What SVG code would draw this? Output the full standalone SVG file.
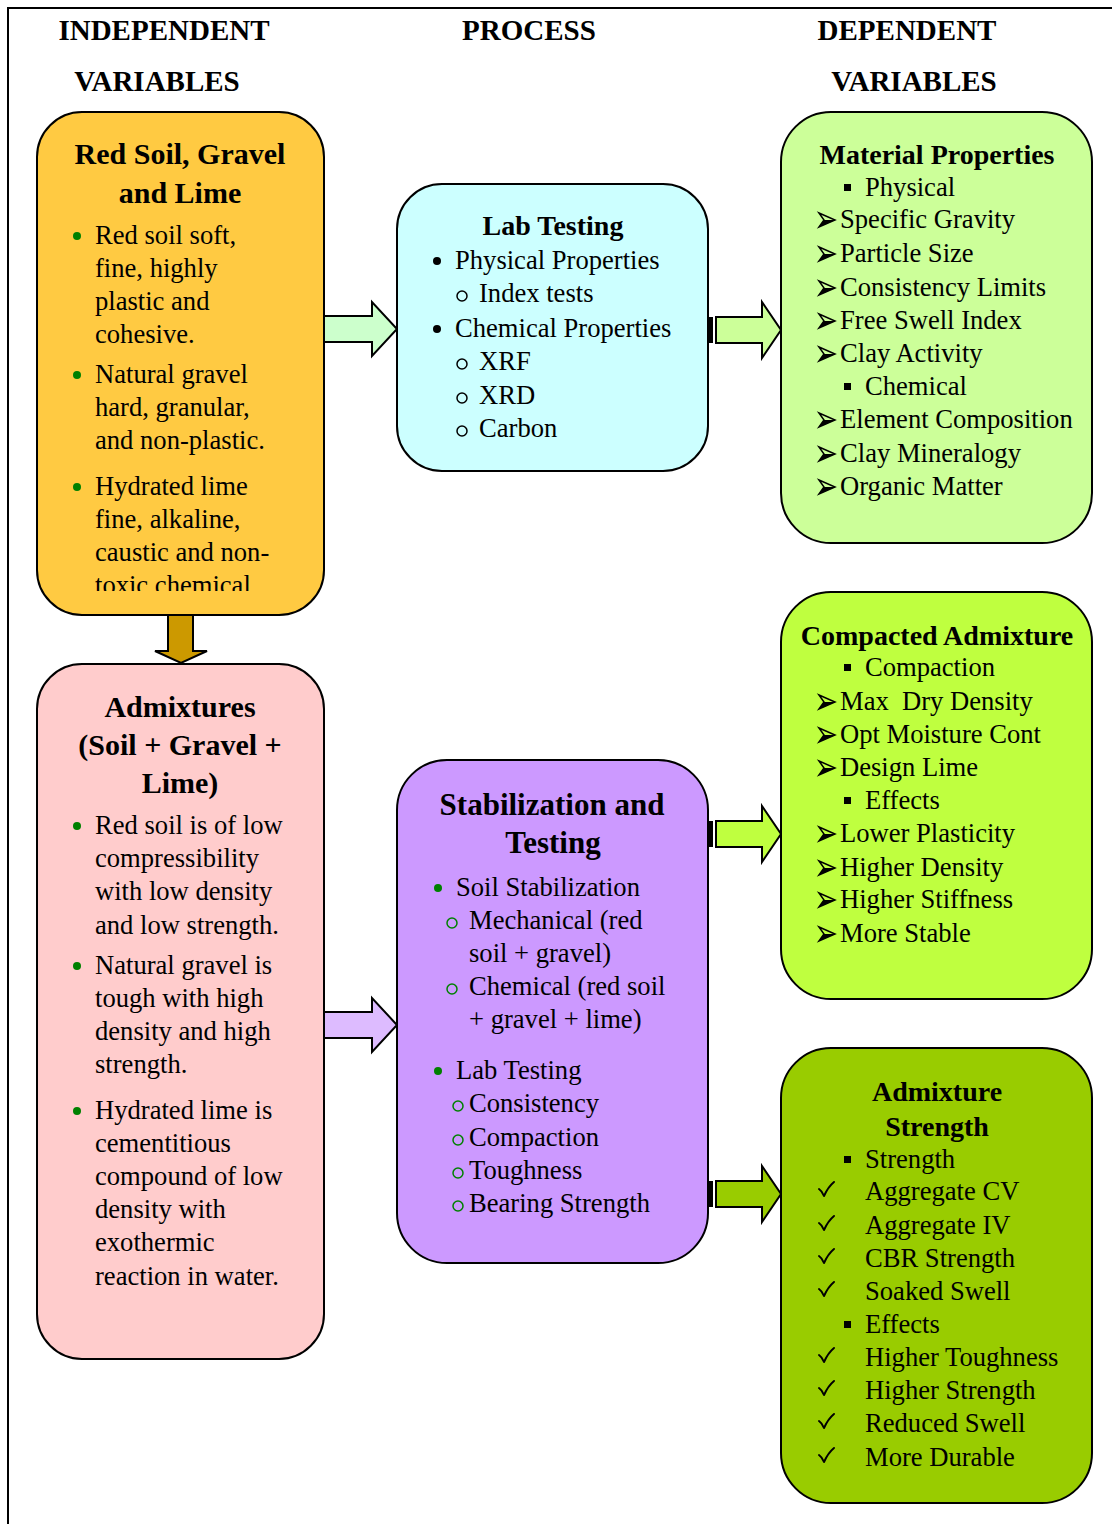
<svg xmlns="http://www.w3.org/2000/svg" width="1112" height="1524" viewBox="0 0 1112 1524">
<style>
text{font-family:"Liberation Serif","Times New Roman",serif;fill:#000}
.b{font-size:26.6px}
.t{font-size:28px;font-weight:bold;text-anchor:middle}
.ts{font-size:31px;font-weight:bold;text-anchor:middle}
.tl{font-size:30px;font-weight:bold;text-anchor:middle}
.h{font-size:29px;font-weight:bold;text-anchor:middle}
.box{stroke:#000;stroke-width:2}
.arr{stroke:#000;stroke-width:2;stroke-linejoin:miter}
.gd{fill:#008000}
.gc{fill:none;stroke:#008000;stroke-width:1.5}
.kc{fill:none;stroke:#000;stroke-width:1.5}
.chk{fill:none;stroke:#000;stroke-width:2;stroke-linecap:round;stroke-linejoin:round}
</style>
<defs>
<clipPath id="clipO"><rect x="37" y="112" width="287" height="479"/></clipPath>
<path id="ah" d="M0,-7 L16,0 L0,7 L5,0 Z"/>
</defs>
<rect width="1112" height="1524" fill="#fff"/>
<path d="M8,1524 V8 H1112" fill="none" stroke="#000" stroke-width="2"/>

<g id="headers">
<text class="h" x="164" y="40">INDEPENDENT</text>
<text class="h" x="157" y="91">VARIABLES</text>
<text class="h" x="529" y="40">PROCESS</text>
<text class="h" x="907" y="40">DEPENDENT</text>
<text class="h" x="914" y="91">VARIABLES</text>
</g>

<g id="connectors">
<polygon class="arr" fill="#CCFFCC" points="324,316 372,316 372,302 397,329 372,356 372,342 324,342"/>
<g>
<rect x="707" y="317" width="6" height="26" fill="#000"/>
<polygon class="arr" fill="#CCFF99" points="716,317 762,317 762,302 781,330 762,358 762,343 716,343"/>
</g>
<polygon class="arr" fill="#CC9900" points="168,615 193,615 193,651 207,651 181,663 155,651 168,651"/>
<polygon class="arr" fill="#DDBBFF" points="324,1012 372,1012 372,998 397,1025 372,1052 372,1038 324,1038"/>
<g>
<rect x="707" y="821" width="6" height="26" fill="#000"/>
<polygon class="arr" fill="#BFFF3F" points="716,821 762,821 762,806 781,834 762,862 762,847 716,847"/>
</g>
<g>
<rect x="707" y="1181" width="6" height="26" fill="#000"/>
<polygon class="arr" fill="#99CC00" points="716,1181 762,1181 762,1166 781,1194 762,1222 762,1207 716,1207"/>
</g>
</g>

<g id="node-raw-materials">
<rect class="box" x="37" y="112" width="287" height="503" rx="45" fill="#FFCA42"/>
<text class="tl" x="180" y="164">Red Soil, Gravel</text>
<text class="tl" x="180" y="203">and Lime</text>
<g clip-path="url(#clipO)">
<circle class="gd" cx="77" cy="236" r="4"/>
<text class="b" x="95" y="244">Red soil soft,</text>
<text class="b" x="95" y="277">fine, highly</text>
<text class="b" x="95" y="310">plastic and</text>
<text class="b" x="95" y="343">cohesive.</text>
<circle class="gd" cx="77" cy="375" r="4"/>
<text class="b" x="95" y="383">Natural gravel</text>
<text class="b" x="95" y="416">hard, granular,</text>
<text class="b" x="95" y="449">and non-plastic.</text>
<circle class="gd" cx="77" cy="487" r="4"/>
<text class="b" x="95" y="495">Hydrated lime</text>
<text class="b" x="95" y="528">fine, alkaline,</text>
<text class="b" x="95" y="561">caustic and non-</text>
<text class="b" x="95" y="594">toxic chemical</text>
</g>
</g>

<g id="node-lab-testing">
<rect class="box" x="397" y="184" width="311" height="287" rx="45" fill="#CCFFFF"/>
<text class="t" x="553" y="235">Lab Testing</text>
<circle cx="437" cy="261" r="4" fill="#000"/>
<text class="b" x="455" y="269">Physical Properties</text>
<circle class="kc" cx="462" cy="296" r="5"/>
<text class="b" x="479" y="302">Index tests</text>
<circle cx="437" cy="329" r="4" fill="#000"/>
<text class="b" x="455" y="337">Chemical Properties</text>
<circle class="kc" cx="462" cy="364" r="5"/>
<text class="b" x="479" y="370">XRF</text>
<circle class="kc" cx="462" cy="398" r="5"/>
<text class="b" x="479" y="404">XRD</text>
<circle class="kc" cx="462" cy="431" r="5"/>
<text class="b" x="479" y="437">Carbon</text>
</g>

<g id="node-material-properties">
<rect class="box" x="781" y="112" width="311" height="431" rx="50" fill="#CCFF99"/>
<text class="t" x="937" y="164">Material Properties</text>
<rect x="844" y="184" width="7" height="7" fill="#000"/>
<text class="b" x="865" y="196">Physical</text>
<use href="#ah" x="819" y="220" class="kc"/><path d="M824,220 L835,220 L819,227 Z"/>
<text class="b" x="840" y="228">Specific Gravity</text>
<use href="#ah" x="819" y="254" class="kc"/><path d="M824,254 L835,254 L819,261 Z"/>
<text class="b" x="840" y="262">Particle Size</text>
<use href="#ah" x="819" y="288" class="kc"/><path d="M824,288 L835,288 L819,295 Z"/>
<text class="b" x="840" y="296">Consistency Limits</text>
<use href="#ah" x="819" y="321" class="kc"/><path d="M824,321 L835,321 L819,328 Z"/>
<text class="b" x="840" y="329">Free Swell Index</text>
<use href="#ah" x="819" y="354" class="kc"/><path d="M824,354 L835,354 L819,361 Z"/>
<text class="b" x="840" y="362">Clay Activity</text>
<rect x="844" y="383" width="7" height="7" fill="#000"/>
<text class="b" x="865" y="395">Chemical</text>
<use href="#ah" x="819" y="420" class="kc"/><path d="M824,420 L835,420 L819,427 Z"/>
<text class="b" x="840" y="428">Element Composition</text>
<use href="#ah" x="819" y="454" class="kc"/><path d="M824,454 L835,454 L819,461 Z"/>
<text class="b" x="840" y="462">Clay Mineralogy</text>
<use href="#ah" x="819" y="487" class="kc"/><path d="M824,487 L835,487 L819,494 Z"/>
<text class="b" x="840" y="495">Organic Matter</text>
</g>

<g id="node-admixtures">
<rect class="box" x="37" y="664" width="287" height="695" rx="45" fill="#FFCCCC"/>
<text class="tl" x="180" y="717">Admixtures</text>
<text class="tl" x="180" y="755">(Soil + Gravel +</text>
<text class="tl" x="180" y="793">Lime)</text>
<circle class="gd" cx="77" cy="826" r="4"/>
<text class="b" x="95" y="834">Red soil is of low</text>
<text class="b" x="95" y="867">compressibility</text>
<text class="b" x="95" y="900">with low density</text>
<text class="b" x="95" y="934">and low strength.</text>
<circle class="gd" cx="77" cy="966" r="4"/>
<text class="b" x="95" y="974">Natural gravel is</text>
<text class="b" x="95" y="1007">tough with high</text>
<text class="b" x="95" y="1040">density and high</text>
<text class="b" x="95" y="1073">strength.</text>
<circle class="gd" cx="77" cy="1111" r="4"/>
<text class="b" x="95" y="1119">Hydrated lime is</text>
<text class="b" x="95" y="1152">cementitious</text>
<text class="b" x="95" y="1185">compound of low</text>
<text class="b" x="95" y="1218">density with</text>
<text class="b" x="95" y="1251">exothermic</text>
<text class="b" x="95" y="1285">reaction in water.</text>
</g>

<g id="node-stabilization">
<rect class="box" x="397" y="760" width="311" height="503" rx="50" fill="#CC99FF"/>
<text class="ts" x="552" y="815">Stabilization and</text>
<text class="ts" x="553" y="853">Testing</text>
<circle class="gd" cx="438" cy="888" r="4"/>
<text class="b" x="456" y="896">Soil Stabilization</text>
<circle class="gc" cx="452" cy="923" r="5"/>
<text class="b" x="469" y="929">Mechanical (red</text>
<text class="b" x="469" y="962">soil + gravel)</text>
<circle class="gc" cx="452" cy="989" r="5"/>
<text class="b" x="469" y="995">Chemical (red soil</text>
<text class="b" x="469" y="1028">+ gravel + lime)</text>
<circle class="gd" cx="438" cy="1071" r="4"/>
<text class="b" x="456" y="1079">Lab Testing</text>
<circle class="gc" cx="458" cy="1106" r="5"/>
<text class="b" x="469" y="1112">Consistency</text>
<circle class="gc" cx="458" cy="1140" r="5"/>
<text class="b" x="469" y="1146">Compaction</text>
<circle class="gc" cx="458" cy="1173" r="5"/>
<text class="b" x="469" y="1179">Toughness</text>
<circle class="gc" cx="458" cy="1206" r="5"/>
<text class="b" x="469" y="1212">Bearing Strength</text>
</g>

<g id="node-compacted-admixture">
<rect class="box" x="781" y="592" width="311" height="407" rx="50" fill="#BFFF3F"/>
<text class="t" x="937" y="645">Compacted Admixture</text>
<rect x="844" y="664" width="7" height="7" fill="#000"/>
<text class="b" x="865" y="676">Compaction</text>
<use href="#ah" x="819" y="702" class="kc"/><path d="M824,702 L835,702 L819,709 Z"/>
<text class="b" x="840" y="710" xml:space="preserve">Max  Dry Density</text>
<use href="#ah" x="819" y="735" class="kc"/><path d="M824,735 L835,735 L819,742 Z"/>
<text class="b" x="840" y="743">Opt Moisture Cont</text>
<use href="#ah" x="819" y="768" class="kc"/><path d="M824,768 L835,768 L819,775 Z"/>
<text class="b" x="840" y="776">Design Lime</text>
<rect x="844" y="797" width="7" height="7" fill="#000"/>
<text class="b" x="865" y="809">Effects</text>
<use href="#ah" x="819" y="834" class="kc"/><path d="M824,834 L835,834 L819,841 Z"/>
<text class="b" x="840" y="842">Lower Plasticity</text>
<use href="#ah" x="819" y="868" class="kc"/><path d="M824,868 L835,868 L819,875 Z"/>
<text class="b" x="840" y="876">Higher Density</text>
<use href="#ah" x="819" y="900" class="kc"/><path d="M824,900 L835,900 L819,907 Z"/>
<text class="b" x="840" y="908">Higher Stiffness</text>
<use href="#ah" x="819" y="934" class="kc"/><path d="M824,934 L835,934 L819,941 Z"/>
<text class="b" x="840" y="942">More Stable</text>
</g>

<g id="node-admixture-strength">
<rect class="box" x="781" y="1048" width="311" height="455" rx="50" fill="#99CC00"/>
<text class="t" x="937" y="1101">Admixture</text>
<text class="t" x="937" y="1136">Strength</text>
<rect x="844" y="1156" width="7" height="7" fill="#000"/>
<text class="b" x="865" y="1168">Strength</text>
<path class="chk" d="M819,1189 Q822,1191 824,1196 Q828,1187 834,1182"/>
<text class="b" x="865" y="1200">Aggregate CV</text>
<path class="chk" d="M819,1223 Q822,1225 824,1230 Q828,1221 834,1216"/>
<text class="b" x="865" y="1234">Aggregate IV</text>
<path class="chk" d="M819,1256 Q822,1258 824,1263 Q828,1254 834,1249"/>
<text class="b" x="865" y="1267">CBR Strength</text>
<path class="chk" d="M819,1289 Q822,1291 824,1296 Q828,1287 834,1282"/>
<text class="b" x="865" y="1300">Soaked Swell</text>
<rect x="844" y="1321" width="7" height="7" fill="#000"/>
<text class="b" x="865" y="1333">Effects</text>
<path class="chk" d="M819,1355 Q822,1357 824,1362 Q828,1353 834,1348"/>
<text class="b" x="865" y="1366">Higher Toughness</text>
<path class="chk" d="M819,1388 Q822,1390 824,1395 Q828,1386 834,1381"/>
<text class="b" x="865" y="1399">Higher Strength</text>
<path class="chk" d="M819,1421 Q822,1423 824,1428 Q828,1419 834,1414"/>
<text class="b" x="865" y="1432">Reduced Swell</text>
<path class="chk" d="M819,1455 Q822,1457 824,1462 Q828,1453 834,1448"/>
<text class="b" x="865" y="1466">More Durable</text>
</g>
</svg>
